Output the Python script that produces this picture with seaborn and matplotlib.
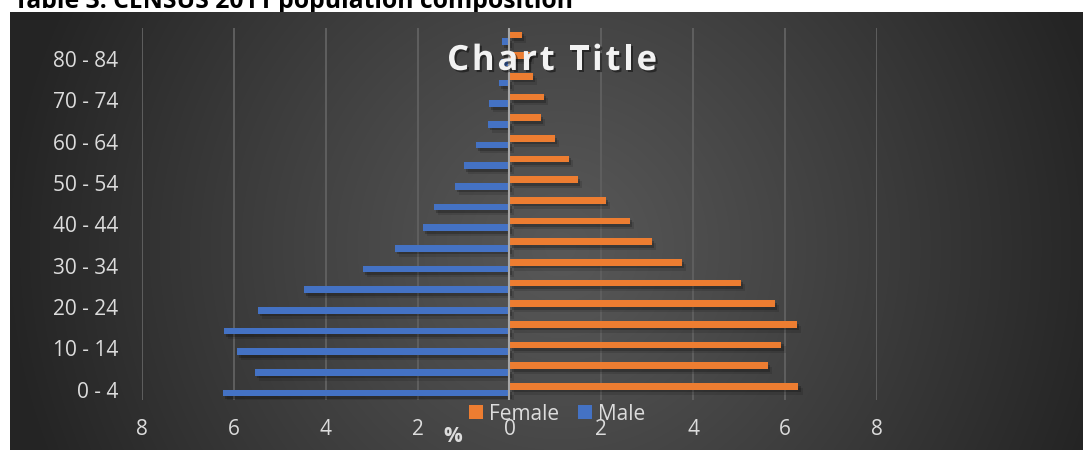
import numpy as np
import pandas as pd
import matplotlib
matplotlib.use("Agg")
import matplotlib.pyplot as plt
import matplotlib.patheffects as pe
from matplotlib.patches import Patch
import seaborn as sns

# Census 2011 population composition, percent of total population
age_groups = ['0 - 4', '5 - 9', '10 - 14', '15 - 19', '20 - 24', '25 - 29',
              '30 - 34', '35 - 39', '40 - 44', '45 - 49', '50 - 54', '55 - 59',
              '60 - 64', '65 - 69', '70 - 74', '75 - 79', '80 - 84', '85+']
female_pct = [6.29, 5.63, 5.92, 6.26, 5.78, 5.04, 3.76, 3.10, 2.63, 2.10,
              1.49, 1.30, 0.99, 0.69, 0.75, 0.51, 0.45, 0.27]
male_pct = [6.24, 5.54, 5.93, 6.22, 5.48, 4.48, 3.19, 2.49, 1.89, 1.65,
            1.19, 0.99, 0.73, 0.47, 0.45, 0.23, 0.18, 0.17]
series = ['Female', 'Male']
x_ticks = [-8, -6, -4, -2, 0, 2, 4, 6, 8]

plt.rcParams['font.family'] = ['Open Sans', 'DejaVu Sans']

W, H = 1083, 450
fig = plt.figure(figsize=(W / 100, H / 100), dpi=100)
fig.patch.set_facecolor('white')


def fx(px):
    return px / W


def fy(py):
    return 1 - py / H


TXT = '#dcdcdc'

# caption above the chart block
fig.text(fx(14), fy(7.5), 'Table 3: CENSUS 2011 population composition',
         fontsize=17.8, fontweight='bold', color='black', ha='left',
         va='baseline', zorder=-5)

# dark chart area with a radial gradient
bg = fig.add_axes([fx(10), 0, fx(W - 10), (H - 12) / H], zorder=0)
gh, gw = H - 12, W - 10
yy, xx = np.mgrid[0:gh, 0:gw]
d = np.clip(np.hypot(xx - 550, (yy - 235) * 1.0) / 560.0, 0, 1)
shade = (0x58 - (0x58 - 0x24) * d ** 1.1) / 255.0
bg.imshow(np.dstack([shade, shade, shade]), aspect='auto',
          extent=[0, 1, 0, 1], interpolation='bilinear')
bg.set_axis_off()

# plot area
ax = fig.add_axes([fx(142), fy(400), fx(877 - 142), (400 - 28) / H], zorder=1)
ax.patch.set_alpha(0)

df = pd.DataFrame({
    'Age': age_groups * 2,
    'Sex': ['Female'] * len(age_groups) + ['Male'] * len(age_groups),
    'Pct': female_pct + [-v for v in male_pct],
})
palette = {'Female': '#ED7D31', 'Male': '#4472C4'}
order = age_groups[::-1]
sns.barplot(data=df, y='Age', x='Pct', hue='Sex', order=order,
            hue_order=series, palette=palette, orient='h', width=0.65,
            dodge=True, saturation=1, errorbar=None, legend=False, ax=ax,
            zorder=2)

# soft drop shadow under each bar
for p in ax.patches:
    p.set_linewidth(0)
    p.set_path_effects([
        pe.SimplePatchShadow(offset=(3, -3.5), shadow_rgbFace='black', alpha=0.12),
        pe.SimplePatchShadow(offset=(1.5, -2), shadow_rgbFace='black', alpha=0.22),
        pe.Normal()])

ax.set_xlim(-8, 8)
ax.set_ylim(len(order) - 0.5, -0.5)
ax.set_xticks(x_ticks)
ax.set_xticklabels([str(abs(t)) for t in x_ticks])
label_idx = [i for i, a in enumerate(order) if a != '85+' and
             int(a.split(' - ')[0]) % 10 == 0]
ax.set_yticks(label_idx)
ax.set_yticklabels([order[i] for i in label_idx])
ax.set_xlabel('')
ax.set_ylabel('')
ax.tick_params(axis='both', length=0, labelsize=15, labelcolor=TXT)
ax.tick_params(axis='y', pad=17)
ax.tick_params(axis='x', pad=14)
for s in ax.spines.values():
    s.set_visible(False)
ax.set_axisbelow(True)
ax.xaxis.grid(True, color='#5f5f5f', linewidth=1.4)
ax.yaxis.grid(False)
ax.axvline(0, color='#a6a6a6', linewidth=1.5, zorder=5)

# legend
handles = [Patch(facecolor=palette[s], edgecolor='none', label=s) for s in series]
fig.legend(handles=handles, loc='center', bbox_to_anchor=(fx(557), fy(414)),
           ncol=2, frameon=False, fontsize=15, labelcolor=TXT,
           handlelength=0.68, handleheight=0.68, handletextpad=0.3,
           columnspacing=0.9, borderpad=0, borderaxespad=0)

fig.text(fx(453), fy(437), '%', fontsize=15, fontweight='bold', color=TXT,
         ha='center', va='center')

# letter-spaced chart title
title = 'Chart Title'
tkw = dict(fontsize=25, fontweight='bold', color='#f2f2f2', va='baseline',
           path_effects=[pe.withSimplePatchShadow(offset=(1.5, -1.5),
                                                  shadow_rgbFace='black',
                                                  alpha=0.45)])
renderer = fig.canvas.get_renderer()


def text_width(s):
    t = fig.text(0, 0, s, fontsize=tkw['fontsize'], fontweight='bold')
    w = t.get_window_extent(renderer).width
    t.remove()
    return w


bar_w = text_width('|')
adv = [text_width(title[:i] + '|') - bar_w for i in range(len(title))]
full = text_width(title)
spacing = (210 - full) / (len(title) - 1)
x0 = 552 - (full + spacing * (len(title) - 1)) / 2
for i, ch in enumerate(title):
    if ch == ' ':
        continue
    fig.text(fx(x0 + adv[i] + i * spacing), fy(70), ch, ha='left', zorder=6, **tkw)

fig.savefig('out.png', dpi=100)
